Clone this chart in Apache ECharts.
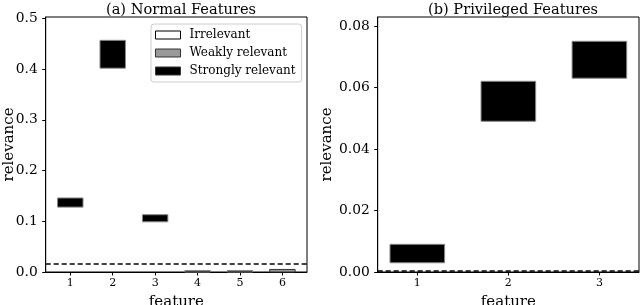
<!DOCTYPE html>
<html><head><meta charset="utf-8">
<script src="https://cdn.jsdelivr.net/npm/echarts@6/dist/echarts.min.js"></script>
<style>html,body{margin:0;padding:0;background:#fff}#c{width:640px;height:305px}</style>
</head><body><div id="c"></div>
<script>
// ---- data ----
const leftFeatures = [1, 2, 3, 4, 5, 6];
const leftLower = [0.128, 0.402, 0.099, 0.0, 0.0, 0.0];
const leftUpper = [0.146, 0.457, 0.113, 0.003, 0.003, 0.005];
const leftClass = ['Strongly relevant', 'Strongly relevant', 'Strongly relevant', 'Strongly relevant', 'Strongly relevant', 'Weakly relevant'];
const leftThreshold = 0.016;
const leftYTicks = [0.0, 0.1, 0.2, 0.3, 0.4, 0.5];

const rightFeatures = [1, 2, 3];
const rightLower = [0.003, 0.049, 0.063];
const rightUpper = [0.009, 0.062, 0.075];
const rightClass = ['Strongly relevant', 'Strongly relevant', 'Strongly relevant'];
const rightThreshold = 0.0003;
const rightYTicks = [0.00, 0.02, 0.04, 0.06, 0.08];

const classes = ['Irrelevant', 'Weakly relevant', 'Strongly relevant'];
const titles = ['(a) Normal Features', '(b) Privileged Features'];

// ---- styles ----
const FONT = 'DejaVu Serif';
const classStyle = {
  'Irrelevant': {fill: '#ffffff', stroke: '#000000', legendStroke: '#000000'},
  'Weakly relevant': {fill: '#999999', stroke: '#333333', legendStroke: '#333333'},
  'Strongly relevant': {fill: '#000000', stroke: '#888888', legendStroke: '#333333'}
};
const HALF = 0.3;

function renderBox(params, api) {
  const x = api.value(0), lo = api.value(1), hi = api.value(2);
  const p1 = api.coord([x - HALF, hi]);
  const p2 = api.coord([x + HALF, lo]);
  const st = classStyle[params.seriesName];
  return {
    type: 'rect',
    shape: {x: p1[0], y: p1[1], width: p2[0] - p1[0], height: Math.max(p2[1] - p1[1], 1)},
    style: {fill: st.fill, stroke: st.stroke, lineWidth: 1}
  };
}

function buildSeries(features, lower, upper, cls, gi) {
  return classes.map(c => {
    const data = [];
    features.forEach((f, i) => { if (cls[i] === c) data.push([f, lower[i], upper[i]]); });
    return {
      type: 'custom', name: c, xAxisIndex: gi, yAxisIndex: gi,
      renderItem: renderBox, data: data,
      encode: {x: 0, y: [1, 2]},
      itemStyle: {color: classStyle[c].fill, borderColor: classStyle[c].legendStroke, borderWidth: 1},
      silent: true
    };
  });
}

function thresholdSeries(val, gi, xmin, xmax) {
  return {
    type: 'line', xAxisIndex: gi, yAxisIndex: gi, silent: true, symbol: 'none',
    data: [[xmin, val], [xmax, val]],
    lineStyle: {color: '#000', width: 1.5, type: [5, 3]}, z: 5
  };
}

const L = {xmin: 0.42, xmax: 6.58, ymax: 0.503};
const R = {xmin: 0.565, xmax: 3.435, ymax: 0.0829};

function xAxis(gi, lim, feats) {
  return {
    type: 'value', gridIndex: gi, min: lim.xmin, max: lim.xmax,
    name: 'feature', nameLocation: 'middle', nameGap: 23, nameMoveOverlap: false,
    nameTextStyle: {fontFamily: FONT, fontSize: 15, color: '#000'},
    axisLine: {show: true, onZero: false, lineStyle: {color: '#000', width: 1}},
    axisTick: {show: true, length: 3.5, customValues: feats, lineStyle: {color: '#000'}},
    axisLabel: {customValues: feats, fontFamily: FONT, fontSize: 11, color: '#000', margin: 6},
    splitLine: {show: false}
  };
}
function yAxis(gi, lim, ticks, dec, gap) {
  return {
    type: 'value', gridIndex: gi, min: 0, max: lim.ymax,
    name: 'relevance', nameLocation: 'middle', nameGap: gap, nameRotate: 90, nameMoveOverlap: false,
    nameTextStyle: {fontFamily: FONT, fontSize: 15, color: '#000'},
    axisLine: {show: true, onZero: false, lineStyle: {color: '#000', width: 1}},
    axisTick: {show: true, length: 3.5, customValues: ticks, lineStyle: {color: '#000'}},
    axisLabel: {customValues: ticks, fontFamily: FONT, fontSize: 13.8, color: '#000', margin: 8,
      formatter: v => Number(v).toFixed(dec)},
    splitLine: {show: false}
  };
}

const option = {
  animation: false,
  backgroundColor: '#fff',
  title: [
    {text: titles[0], left: 176, top: -2, textAlign: 'center',
     textStyle: {fontFamily: FONT, fontSize: 14.6, fontWeight: 'normal', color: '#000'}},
    {text: titles[1], left: 508, top: -2, textAlign: 'center',
     textStyle: {fontFamily: FONT, fontSize: 14.6, fontWeight: 'normal', color: '#000'}}
  ],
  grid: [
    {left: 45.7, right: 333, top: 17, bottom: 33, outerBoundsMode: 'none', containLabel: false,
     show: true, borderColor: '#000', borderWidth: 1, backgroundColor: 'transparent'},
    {left: 377.7, right: 1, top: 17, bottom: 33, outerBoundsMode: 'none', containLabel: false,
     show: true, borderColor: '#000', borderWidth: 1, backgroundColor: 'transparent'}
  ],
  xAxis: [xAxis(0, L, leftFeatures), xAxis(1, R, rightFeatures)],
  yAxis: [yAxis(0, L, leftYTicks, 1, 29), yAxis(1, R, rightYTicks, 2, 43)],
  legend: {
    left: 151, top: 24, orient: 'vertical', icon: 'rect',
    itemWidth: 25, itemHeight: 8, itemGap: 6,
    padding: [5, 6, 5, 4],
    borderColor: '#cccccc', borderWidth: 1, borderRadius: 3, backgroundColor: '#fff',
    selectedMode: false,
    textStyle: {fontFamily: FONT, fontSize: 12, color: '#000', padding: [0, 0, 0, 4]},
    data: classes.map(c => ({name: c, itemStyle: {color: classStyle[c].fill, borderColor: classStyle[c].legendStroke, borderWidth: 1}}))
  },
  series: [
    ...buildSeries(leftFeatures, leftLower, leftUpper, leftClass, 0),
    ...buildSeries(rightFeatures, rightLower, rightUpper, rightClass, 1),
    thresholdSeries(leftThreshold, 0, L.xmin, L.xmax),
    thresholdSeries(rightThreshold, 1, R.xmin, R.xmax)
  ]
};
const chart = echarts.init(document.getElementById('c'), null, {renderer: 'canvas'});
chart.setOption(option);
</script></body></html>
